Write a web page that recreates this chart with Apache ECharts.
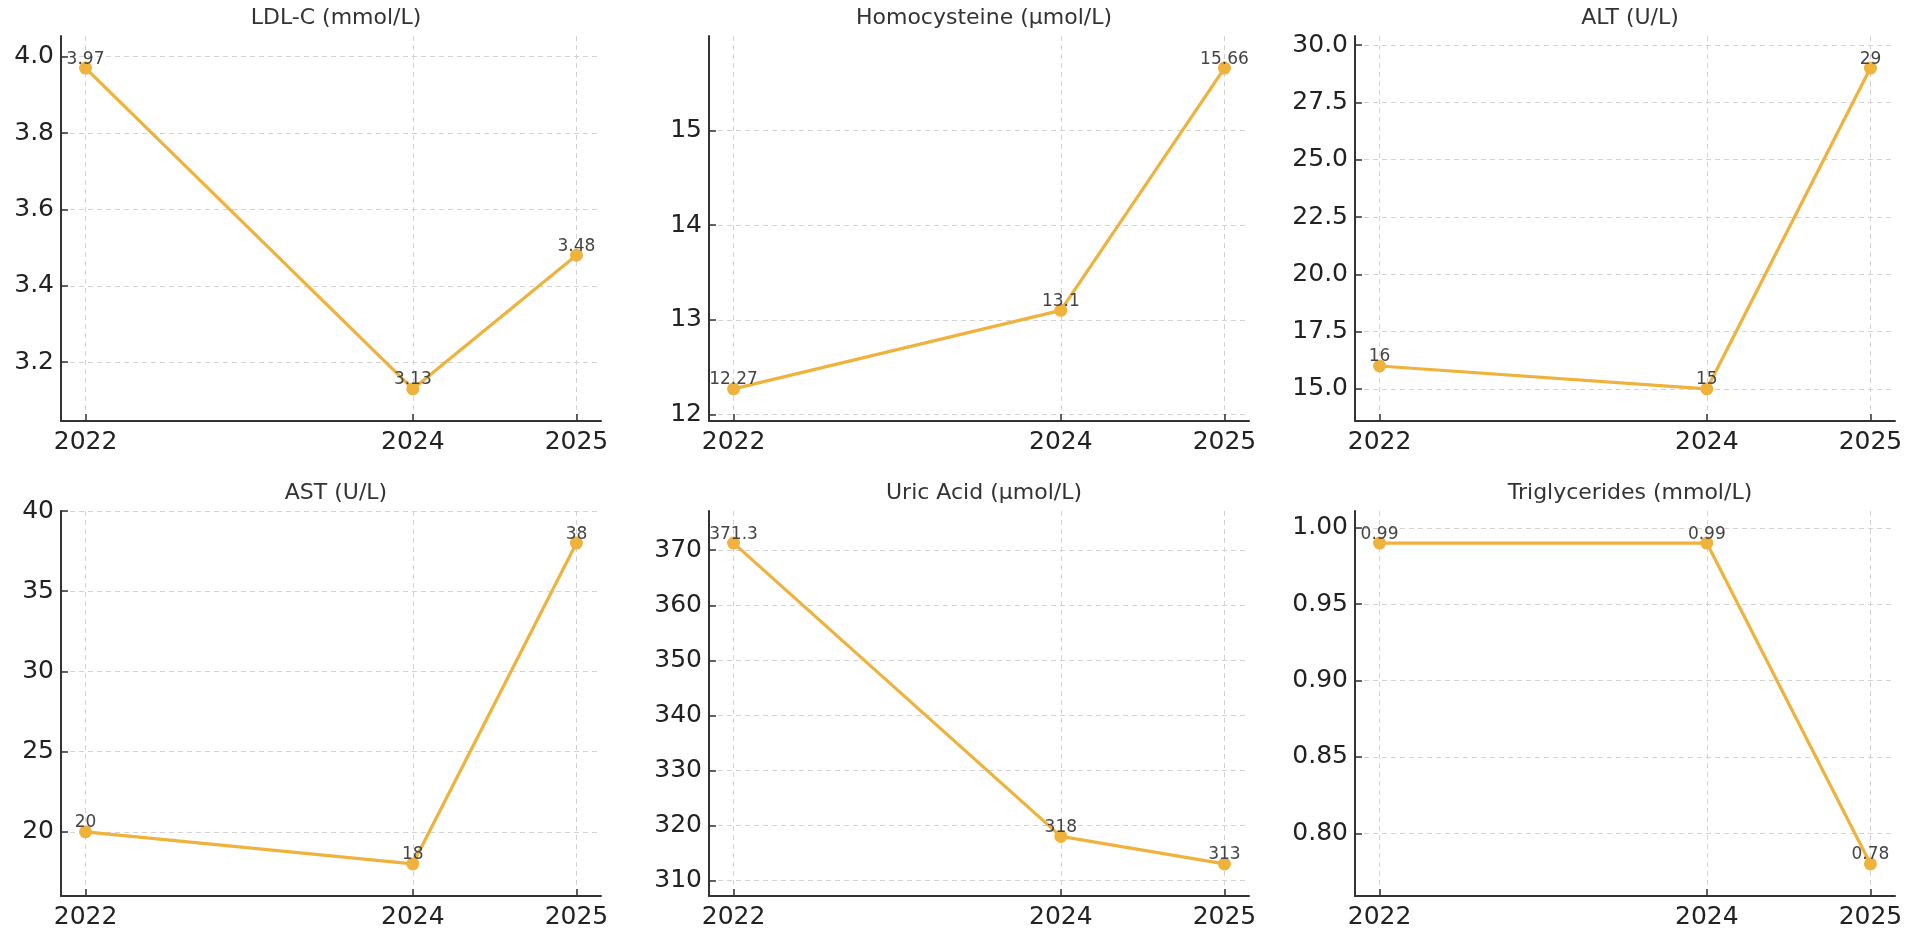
<!DOCTYPE html>
<html>
<head>
<meta charset="utf-8">
<script src="https://cdn.jsdelivr.net/npm/echarts@6/dist/echarts.min.js"></script>
<style>
html,body{margin:0;padding:0;background:#fff;}
#c{width:1914px;height:936px;}
</style>
</head>
<body>
<div id="c"></div>
<script>
// ---- data ----
const years = [2022, 2024, 2025];
const xTicks = [2022, 2024, 2025];

const titles = ['LDL-C (mmol/L)', 'Homocysteine (μmol/L)', 'ALT (U/L)', 'AST (U/L)', 'Uric Acid (μmol/L)', 'Triglycerides (mmol/L)'];

const ldlValues = [3.97, 3.13, 3.48];
const hcyValues = [12.27, 13.1, 15.66];
const altValues = [16, 15, 29];
const astValues = [20, 18, 38];
const uricValues = [371.3, 318, 313];
const tgValues = [0.99, 0.99, 0.78];

const ldlTicks = [3.2, 3.4, 3.6, 3.8, 4.0];
const hcyTicks = [12, 13, 14, 15];
const altTicks = [15, 17.5, 20, 22.5, 25, 27.5, 30];
const astTicks = [20, 25, 30, 35, 40];
const uricTicks = [310, 320, 330, 340, 350, 360, 370];
const tgTicks = [0.80, 0.85, 0.90, 0.95, 1.00];

const tickDecimals = [1, 0, 1, 0, 0, 2];

// ---- build ----
const seriesValues = [ldlValues, hcyValues, altValues, astValues, uricValues, tgValues];
const seriesTicks = [ldlTicks, hcyTicks, altTicks, astTicks, uricTicks, tgTicks];

const FONT = 'DejaVu Sans';
const LINE = '#EFB23D';
const gridLefts = [61, 709, 1355];
const gridTops = [36, 511];
const gridW = 540, gridH = 385;

const grid = [], xAxis = [], yAxis = [], series = [], title = [];

for (let i = 0; i < 6; i++) {
  const col = i % 3, row = Math.floor(i / 3);
  const vals = seriesValues[i];
  const vmin = Math.min(...vals), vmax = Math.max(...vals);
  const span = vmax - vmin;
  const xmin = years[0], xmax = years[years.length - 1];
  const xspan = xmax - xmin;
  grid.push({left: gridLefts[col], top: gridTops[row], width: gridW, height: gridH});
  title.push({
    text: titles[i],
    left: gridLefts[col] + gridW / 2,
    top: gridTops[row] - 34,
    textAlign: 'center',
    textStyle: {fontFamily: FONT, fontSize: 22, fontWeight: 'normal', color: '#333'}
  });
  xAxis.push({
    type: 'value', gridIndex: i,
    min: xmin - 0.05 * xspan, max: xmax + 0.05 * xspan,
    axisLine: {show: true, lineStyle: {color: '#333', width: 2}},
    axisTick: {show: true, inside: true, length: 7, lineStyle: {color: '#333', width: 1.5}, customValues: xTicks},
    axisLabel: {customValues: xTicks, fontFamily: FONT, fontSize: 25, color: '#222', margin: 9,
      formatter: v => String(v)},
    splitLine: {show: true, lineStyle: {color: '#d3d3d3', type: [5, 4], width: 1}}
  });
  const dec = tickDecimals[i];
  yAxis.push({
    type: 'value', gridIndex: i,
    min: vmin - 0.1 * span, max: vmax + 0.1 * span,
    axisLine: {show: true, lineStyle: {color: '#333', width: 2}},
    axisTick: {show: true, inside: true, length: 7, lineStyle: {color: '#333', width: 1.5}, customValues: seriesTicks[i]},
    axisLabel: {customValues: seriesTicks[i], fontFamily: FONT, fontSize: 25, color: '#222', margin: 7,
      formatter: v => Number(v).toFixed(dec)},
    splitLine: {show: true, lineStyle: {color: '#d3d3d3', type: [5, 4], width: 1}}
  });
  series.push({
    type: 'line', xAxisIndex: i, yAxisIndex: i,
    data: years.map((y, k) => [y, vals[k]]),
    symbol: 'circle', symbolSize: 13,
    lineStyle: {color: LINE, width: 3.2},
    itemStyle: {color: LINE},
    label: {show: true, position: 'top', distance: -6, fontFamily: FONT, fontSize: 17, color: '#444',
      formatter: p => String(p.value[1])},
    emphasis: {disabled: true}
  });
}

const chart = echarts.init(document.getElementById('c'), null, {renderer: 'canvas'});
chart.setOption({animation: false, backgroundColor: '#fff', title, grid, xAxis, yAxis, series});
</script>
</body>
</html>
